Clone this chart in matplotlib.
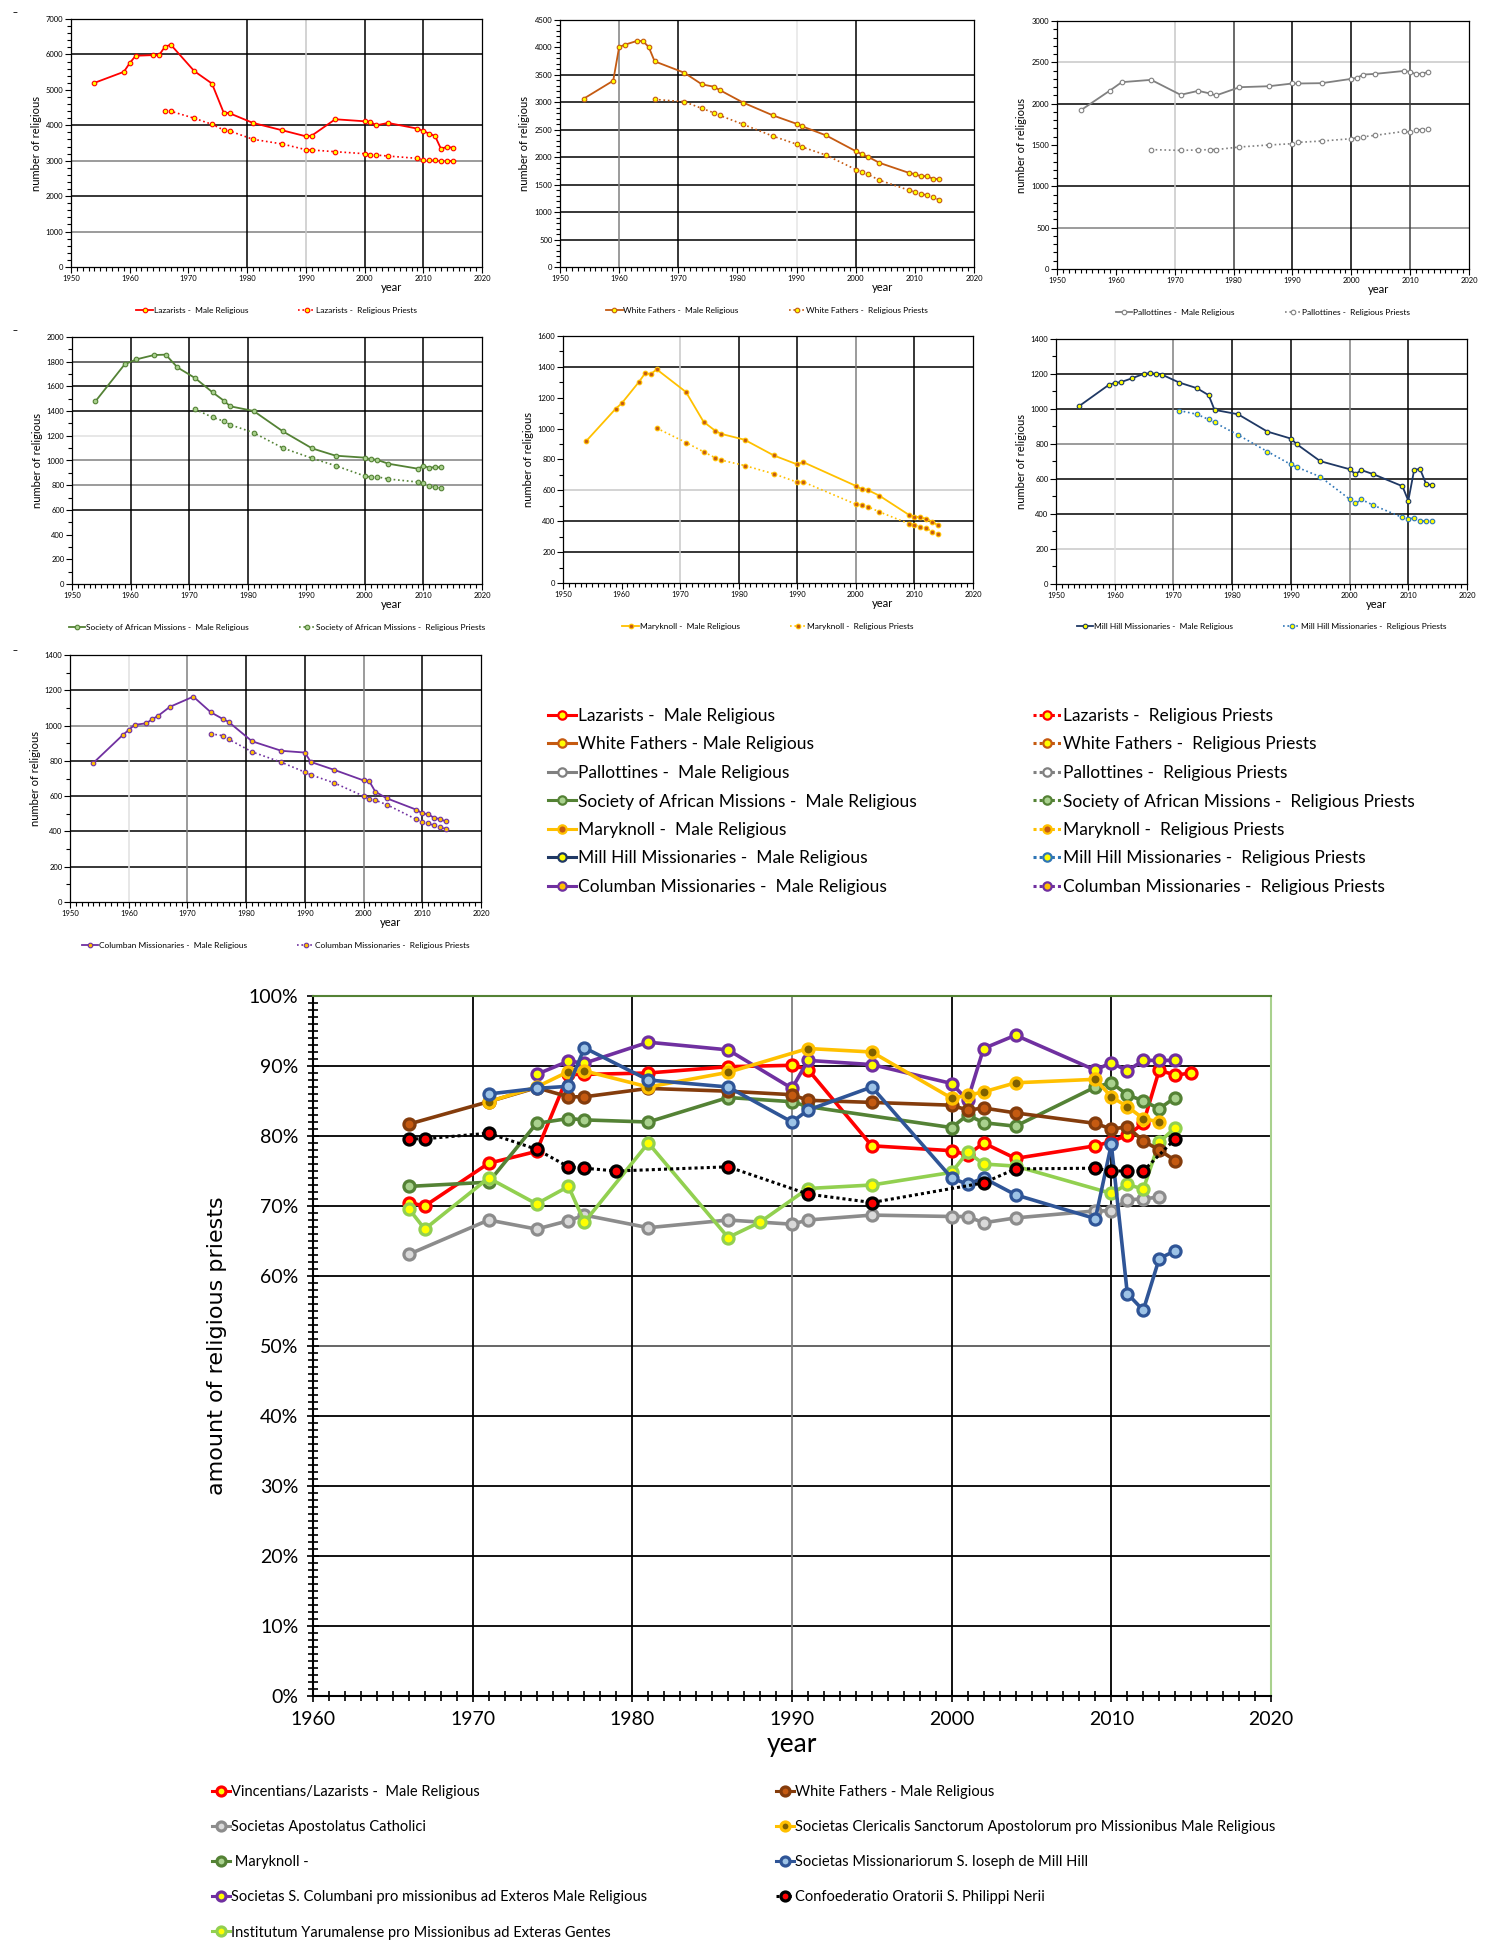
import matplotlib
matplotlib.use("Agg")
import matplotlib.pyplot as plt
from matplotlib.ticker import MultipleLocator, FuncFormatter
from matplotlib.lines import Line2D

# ---------------- small panels: number of religious ----------------
laz_male_years = [1954, 1959, 1960, 1961, 1964, 1965, 1966, 1967, 1971, 1974, 1976, 1977, 1981, 1986,
                  1990, 1991, 1995, 2000, 2001, 2002, 2004, 2009, 2010, 2011, 2012, 2013, 2014, 2015]
laz_male = [5198, 5509, 5755, 5962, 5981, 5981, 6217, 6274, 5528, 5179, 4358, 4340, 4066, 3858,
            3689, 3708, 4170, 4113, 4094, 4000, 4066, 3906, 3840, 3764, 3698, 3340, 3387, 3368]
laz_priest_years = [1966, 1967, 1971, 1974, 1976, 1977, 1981, 1986, 1990, 1991, 1995, 2000, 2001,
                    2002, 2004, 2009, 2010, 2011, 2012, 2013, 2014, 2015]
laz_priest = [4396, 4396, 4198, 4028, 3868, 3840, 3604, 3472, 3311, 3302, 3255, 3198, 3170,
              3160, 3132, 3066, 3019, 3009, 3009, 2991, 2991, 2991]

wf_male_years = [1954, 1959, 1960, 1961, 1963, 1964, 1965, 1966, 1971, 1974, 1976, 1977, 1981, 1986,
                 1990, 1991, 1995, 2000, 2001, 2002, 2004, 2009, 2010, 2011, 2012, 2013, 2014]
wf_male = [3066, 3394, 4008, 4051, 4118, 4118, 4008, 3747, 3540, 3327, 3285, 3224, 2993, 2762,
           2609, 2561, 2397, 2111, 2056, 2013, 1898, 1715, 1691, 1655, 1655, 1612, 1600]
wf_priest_years = [1966, 1971, 1974, 1976, 1977, 1981, 1986, 1990, 1991, 1995, 2000, 2001, 2002,
                   2004, 2009, 2010, 2011, 2012, 2013, 2014]
wf_priest = [3054, 3011, 2889, 2810, 2762, 2597, 2384, 2238, 2184, 2038, 1776, 1727, 1691,
             1582, 1399, 1363, 1338, 1308, 1271, 1229]

pal_male_years = [1954, 1959, 1961, 1966, 1971, 1974, 1976, 1977, 1981, 1986, 1990, 1991, 1995,
                  2000, 2001, 2002, 2004, 2009, 2010, 2011, 2012, 2013]
pal_male = [1918, 2159, 2260, 2288, 2107, 2155, 2123, 2099, 2199, 2211, 2244, 2244, 2248,
            2300, 2312, 2352, 2360, 2396, 2384, 2356, 2364, 2380]
pal_priest_years = [1966, 1971, 1974, 1976, 1977, 1981, 1986, 1990, 1991, 1995, 2000, 2001, 2002,
                    2004, 2009, 2010, 2011, 2012, 2013]
pal_priest = [1444, 1435, 1440, 1444, 1444, 1476, 1500, 1516, 1532, 1548, 1576, 1588, 1600,
              1616, 1665, 1653, 1681, 1685, 1697]

sma_male_years = [1954, 1959, 1961, 1964, 1966, 1968, 1971, 1974, 1976, 1977, 1981, 1986, 1991,
                  1995, 2000, 2001, 2002, 2004, 2009, 2010, 2011, 2012, 2013]
sma_male = [1479, 1779, 1819, 1854, 1857, 1754, 1668, 1552, 1482, 1439, 1401, 1236, 1098,
            1039, 1023, 1009, 1007, 974, 934, 955, 942, 945, 945]
sma_priest_years = [1971, 1974, 1976, 1977, 1981, 1986, 1991, 1995, 2000, 2001, 2002, 2004,
                    2009, 2010, 2011, 2012, 2013]
sma_priest = [1414, 1350, 1317, 1290, 1225, 1101, 1018, 958, 874, 866, 869, 850,
              826, 815, 794, 783, 775]

mk_male_years = [1954, 1959, 1960, 1963, 1964, 1965, 1966, 1971, 1974, 1976, 1977, 1981, 1986,
                 1990, 1991, 2000, 2001, 2002, 2004, 2009, 2010, 2011, 2012, 2013, 2014]
mk_male = [921, 1129, 1163, 1304, 1358, 1354, 1384, 1237, 1044, 986, 966, 928, 826,
           768, 783, 629, 608, 603, 566, 443, 430, 426, 415, 398, 374]
mk_priest_years = [1966, 1971, 1974, 1976, 1977, 1981, 1986, 1990, 1991, 2000, 2001, 2002, 2004,
                   2009, 2010, 2011, 2012, 2013, 2014]
mk_priest = [1003, 910, 850, 811, 796, 761, 707, 653, 655, 510, 506, 495, 461,
             385, 376, 365, 355, 333, 318]

mh_male_years = [1954, 1959, 1960, 1961, 1963, 1965, 1966, 1967, 1968, 1971, 1974, 1976, 1977,
                 1981, 1986, 1990, 1991, 1995, 2000, 2001, 2002, 2004, 2009, 2010, 2011, 2012,
                 2013, 2014]
mh_male = [1018, 1138, 1149, 1153, 1176, 1202, 1204, 1202, 1197, 1151, 1119, 1079, 995,
           970, 871, 831, 799, 702, 656, 628, 651, 628, 559, 476, 652, 658, 574, 563]
mh_priest_years = [1971, 1974, 1976, 1977, 1981, 1986, 1990, 1991, 1995, 2000, 2001, 2002, 2004,
                   2009, 2010, 2011, 2012, 2013, 2014]
mh_priest = [991, 970, 940, 923, 852, 757, 683, 668, 613, 485, 460, 483, 451,
             380, 373, 377, 361, 358, 358]

col_male_years = [1954, 1959, 1960, 1961, 1963, 1964, 1965, 1967, 1971, 1974, 1976, 1977, 1981,
                  1986, 1990, 1991, 1995, 2000, 2001, 2002, 2004, 2009, 2010, 2011, 2012, 2013, 2014]
col_male = [789, 947, 975, 1004, 1013, 1036, 1055, 1106, 1164, 1075, 1038, 1021, 911,
            857, 847, 794, 749, 689, 683, 625, 587, 523, 502, 498, 477, 470, 457]
col_priest_years = [1974, 1976, 1977, 1981, 1986, 1990, 1991, 1995, 2000, 2001, 2002, 2004,
                    2009, 2010, 2011, 2012, 2013, 2014]
col_priest = [953, 943, 923, 851, 792, 736, 721, 675, 600, 581, 577, 551,
              468, 455, 445, 434, 426, 415]

# ---------------- big chart: share of priests (%) ----------------
vin_years = [1966, 1967, 1971, 1974, 1976, 1977, 1981, 1986, 1990, 1991, 1995, 2000, 2001, 2002,
             2004, 2009, 2010, 2011, 2012, 2013, 2014, 2015]
vin_pct = [70.5, 70.0, 76.1, 77.8, 88.8, 88.8, 89.0, 89.9, 90.1, 89.5, 78.6, 77.9, 77.3, 79.0,
           76.8, 78.6, 79.2, 80.1, 81.8, 89.4, 88.7, 89.0]
wfp_years = [1966, 1971, 1974, 1976, 1977, 1981, 1986, 1990, 1991, 1995, 2000, 2001, 2002, 2004,
             2009, 2010, 2011, 2012, 2013, 2014]
wfp_pct = [81.7, 84.9, 86.9, 85.6, 85.6, 86.8, 86.4, 85.9, 85.1, 84.8, 84.4, 83.7, 84.0, 83.3,
           81.8, 81.0, 81.3, 79.3, 78.0, 76.5]
sac_years = [1966, 1971, 1974, 1976, 1977, 1981, 1986, 1990, 1991, 1995, 2000, 2001, 2002, 2004,
             2009, 2010, 2011, 2012, 2013]
sac_pct = [63.1, 68.0, 66.7, 67.9, 68.7, 66.9, 68.0, 67.4, 68.0, 68.7, 68.5, 68.5, 67.6, 68.3,
           69.3, 69.3, 70.9, 71.0, 71.3]
scsa_years = [1971, 1974, 1976, 1977, 1981, 1986, 1991, 1995, 2000, 2001, 2002, 2004, 2009, 2010,
              2011, 2012, 2013]
scsa_pct = [84.9, 87.0, 89.2, 89.3, 87.0, 89.1, 92.5, 92.0, 85.4, 85.8, 86.3, 87.6, 88.1, 85.6,
            84.2, 82.5, 82.0]
mkp_years = [1966, 1971, 1974, 1976, 1977, 1981, 1986, 1990, 1991, 2000, 2001, 2002, 2004, 2009,
             2010, 2011, 2012, 2013, 2014]
mkp_pct = [72.8, 73.4, 81.8, 82.5, 82.3, 82.0, 85.5, 84.9, 84.2, 81.2, 83.0, 81.9, 81.4, 87.0,
           87.6, 85.9, 85.0, 83.9, 85.5]
mhp_years = [1971, 1974, 1976, 1977, 1981, 1986, 1990, 1991, 1995, 2000, 2001, 2002, 2004, 2009,
             2010, 2011, 2012, 2013, 2014]
mhp_pct = [86.0, 86.8, 87.1, 92.6, 88.0, 87.0, 82.0, 83.7, 87.0, 74.0, 73.1, 74.0, 71.6, 68.2,
           78.8, 57.5, 55.1, 62.5, 63.6]
colp_years = [1974, 1976, 1977, 1981, 1986, 1990, 1991, 1995, 2000, 2001, 2002, 2004, 2009, 2010,
              2011, 2012, 2013, 2014]
colp_pct = [88.8, 90.7, 90.4, 93.4, 92.3, 86.8, 90.8, 90.2, 87.5, 85.1, 92.5, 94.4, 89.4, 90.5,
            89.3, 90.8, 90.8, 90.8]
ora_years = [1966, 1967, 1971, 1974, 1976, 1977, 1979, 1986, 1991, 1995, 2002, 2004, 2009, 2010,
             2011, 2012, 2014]
ora_pct = [79.6, 79.6, 80.4, 78.1, 75.6, 75.4, 75.0, 75.6, 71.7, 70.5, 73.3, 75.3, 75.4, 75.0,
           75.0, 75.0, 79.6]
yar_years = [1966, 1967, 1971, 1974, 1976, 1977, 1981, 1986, 1988, 1991, 1995, 2000, 2001, 2002,
             2004, 2010, 2011, 2012, 2013, 2014]
yar_pct = [69.6, 66.7, 74.0, 70.3, 72.8, 67.7, 79.0, 65.5, 67.7, 72.5, 73.0, 74.8, 77.7, 76.0,
           75.7, 71.8, 73.1, 72.4, 79.1, 81.2]

W, H = 1493, 1960
fig = plt.figure(figsize=(W / 100, H / 100), dpi=100)
CAL = ["Lato", "DejaVu Sans"]


def box(l, t, r, b):
    # pixel box (left, top, right, bottom) -> figure fraction rect
    return [l / W, 1 - b / H, (r - l) / W, (b - t) / H]


def small_panel(rect, name, data, ymax, ystep, yminor, sty, hgrid, vgrid):
    ax = fig.add_axes(box(*rect))
    (my, mv, py, pv) = data
    (lc, mfc, mec, plc, pmfc, pmec) = sty
    for y, c in hgrid:
        ax.axhline(y, color=c, lw=1.1, zorder=0)
    for x, c in vgrid:
        ax.axvline(x, color=c, lw=1.1, zorder=0)
    ax.plot(my, mv, "-", color=lc, lw=1.3, marker="o", ms=3.3, mfc=mfc, mec=mec, mew=0.8,
            label=name + " -  Male Religious")
    ax.plot(py, pv, ":", color=plc, lw=1.2, marker="o", ms=3.3, mfc=pmfc, mec=pmec, mew=0.8,
            label=name + " -  Religious Priests")
    ax.set_xlim(1950, 2020)
    ax.set_ylim(0, ymax)
    ax.xaxis.set_major_locator(MultipleLocator(10))
    ax.xaxis.set_minor_locator(MultipleLocator(1))
    ax.yaxis.set_major_locator(MultipleLocator(ystep))
    ax.yaxis.set_minor_locator(MultipleLocator(yminor))
    ax.tick_params(which="both", direction="out", labelsize=5.5, width=0.8, pad=1.5)
    ax.tick_params(which="major", length=4)
    ax.tick_params(which="minor", length=3)
    for lab in ax.get_xticklabels() + ax.get_yticklabels():
        lab.set_family(CAL)
    for s in ax.spines.values():
        s.set_color("black")
        s.set_linewidth(0.9)
    ax.set_ylabel("number of religious", fontsize=8, family=CAL, labelpad=3)
    ax.set_xlabel("year", fontsize=8, family=CAL, labelpad=-1)
    ax.xaxis.set_label_coords(0.78, -0.06)
    ax.legend(loc="upper center", bbox_to_anchor=(0.5, -0.13), ncol=2, frameon=False,
              columnspacing=6, handlelength=2, handletextpad=0.1,
              prop={"family": CAL, "size": 6})
    return ax


K, G, LG = "black", "#808080", "#C8C8C8"

panels = [
    ((71, 19, 482, 267), "Lazarists", (laz_male_years, laz_male, laz_priest_years, laz_priest),
     7000, 1000, 200, ("#FF0000", "yellow", "#FF0000", "#FF0000", "yellow", "#FF0000"),
     [(6000, K), (4000, K), (3000, G), (2000, K), (1000, G)],
     [(1980, K), (1990, LG), (2000, K), (2010, K)]),
    ((560, 20, 974, 267), "White Fathers", (wf_male_years, wf_male, wf_priest_years, wf_priest),
     4500, 500, 100, ("#C55A11", "yellow", "#C55A11", "#C55A11", "yellow", "#C55A11"),
     [(3500, K), (3000, K), (2500, K), (2000, K), (1500, K), (1000, K), (500, K)],
     [(1960, G), (1970, K), (1990, "#E6E6E6"), (2000, K)]),
    ((1057, 21, 1469, 269), "Pallottines", (pal_male_years, pal_male, pal_priest_years, pal_priest),
     3000, 500, 100, ("#808080", "white", "#808080", "#808080", "white", "#808080"),
     [(2500, LG), (2000, K), (1000, K), (500, G)],
     [(1970, LG), (1980, "#404040"), (1990, K), (2000, K), (2010, "#404040")]),
    ((72, 337, 482, 584), "Society of African Missions", (sma_male_years, sma_male, sma_priest_years, sma_priest),
     2000, 200, 100, ("#548235", "#A9D18E", "#548235", "#548235", "#A9D18E", "#548235"),
     [(1800, "#404040"), (1600, K), (1400, K), (1200, "#E0E0E0"), (1000, G), (800, G), (600, K)],
     [(1960, K), (1970, K), (1980, K), (2000, K), (2010, K)]),
    ((563, 336, 973, 583), "Maryknoll", (mk_male_years, mk_male, mk_priest_years, mk_priest),
     1600, 200, 100, ("#FFC000", "#C55A11", "#FFC000", "#FFC000", "#C55A11", "#FFC000"),
     [(1400, K), (600, LG), (400, K), (200, K)],
     [(1970, LG), (1980, K), (1990, K), (2000, G), (2010, K)]),
    ((1056, 339, 1467, 584), "Mill Hill Missionaries", (mh_male_years, mh_male, mh_priest_years, mh_priest),
     1400, 200, 100, ("#1F3864", "yellow", "#1F3864", "#2E75B6", "yellow", "#2E75B6"),
     [(1200, K), (1000, K), (800, G), (600, K), (400, K), (200, LG)],
     [(1960, "#E0E0E0"), (1970, G), (1980, K), (1990, K), (2000, G), (2010, K)]),
    ((70, 655, 481, 902), "Columban Missionaries", (col_male_years, col_male, col_priest_years, col_priest),
     1400, 200, 100, ("#7030A0", "#FFC000", "#7030A0", "#7030A0", "#FFC000", "#7030A0"),
     [(1200, K), (1000, G), (800, K), (600, K), (400, K), (200, K)],
     [(1960, "#E0E0E0"), (1970, G), (1980, K), (1990, K), (2000, G), (2010, K)]),
]

male_handles, priest_handles, male_labels, priest_labels = [], [], [], []
for p in panels:
    small_panel(*p)
    name = p[1]
    lc, mfc, mec, plc, pmfc, pmec = p[6]
    male_handles.append(Line2D([], [], color=lc, lw=2.2, marker="o", ms=6, mfc=mfc, mec=mec, mew=1.6))
    priest_handles.append(Line2D([], [], color=plc, lw=2.2, ls=(0, (1, 1)), marker="o", ms=6,
                                 mfc=pmfc, mec=pmec, mew=1.6))
    sep = " - " if name == "White Fathers" else " -  "
    male_labels.append(name + sep + "Male Religious")
    priest_labels.append(name + " -  Religious Priests")

# small stray marks from the original screenshots
for x, y in [(13, 12), (13, 330), (13, 650)]:
    fig.text(x / W, 1 - y / H, "–", fontsize=7, ha="left", va="center")

# shared legend for the small panels
leg_kw = dict(loc="upper left", frameon=False, handlelength=1.6, handletextpad=0.15, borderpad=0,
              borderaxespad=0, labelspacing=0.72, prop={"family": CAL, "size": 12.5})
l1 = fig.legend(male_handles, male_labels, bbox_to_anchor=(548 / W, 1 - 708 / H), **leg_kw)
l2 = fig.legend(priest_handles, priest_labels, bbox_to_anchor=(1033 / W, 1 - 708 / H), **leg_kw)

# ---------------- big chart ----------------
axb = fig.add_axes(box(313, 996, 1271, 1696))
for y in range(10, 100, 10):
    axb.axhline(y, color="#595959" if y == 50 else "black", lw=1.3, zorder=0)
for x in [1970, 1980, 1990, 2000, 2010]:
    axb.axvline(x, color="#7F7F7F" if x == 1990 else "black", lw=1.3, zorder=0)

big = [
    (vin_years, vin_pct, "Vincentians/Lazarists -  Male Religious", "#FF0000", "yellow", "-"),
    (sac_years, sac_pct, "Societas Apostolatus Catholici", "#8C8C8C", "#D9D9D9", "-"),
    (mkp_years, mkp_pct, " Maryknoll -", "#548235", "#A9D18E", "-"),
    (colp_years, colp_pct, "Societas S. Columbani pro missionibus ad Exteros Male Religious", "#7030A0", "yellow", "-"),
    (yar_years, yar_pct, "Institutum Yarumalense pro Missionibus ad Exteras Gentes", "#92D050", "yellow", "-"),
    (wfp_years, wfp_pct, "White Fathers - Male Religious", "#843C0C", "#C55A11", "-"),
    (scsa_years, scsa_pct, "Societas Clericalis Sanctorum Apostolorum pro Missionibus Male Religious", "#FFC000", "#7F6000", "-"),
    (mhp_years, mhp_pct, "Societas Missionariorum S. Ioseph de Mill Hill", "#2F5597", "#9DC3E6", "-"),
    (ora_years, ora_pct, "Confoederatio Oratorii S. Philippi Nerii", "black", "#FF0000", (0, (1, 1))),
]
handles = []
for yrs, vals, lab, col, mfc, ls in big:
    lw = 2.2 if col == "black" else 2.6
    h, = axb.plot(yrs, vals, linestyle=ls, color=col, lw=lw, marker="o", ms=8, mfc=mfc, mec=col,
                  mew=2.3, label=lab, zorder=3)
    handles.append(h)

axb.set_xlim(1960, 2020)
axb.set_ylim(0, 100)
axb.xaxis.set_major_locator(MultipleLocator(10))
axb.xaxis.set_minor_locator(MultipleLocator(1))
axb.yaxis.set_major_locator(MultipleLocator(10))
axb.yaxis.set_minor_locator(MultipleLocator(1))
axb.yaxis.set_major_formatter(FuncFormatter(lambda v, p: f"{v:.0f}%"))
axb.tick_params(which="both", direction="inout", width=1.2, labelsize=14)
axb.tick_params(which="major", length=9, pad=6)
axb.tick_params(which="minor", length=7)
for lab in axb.get_xticklabels() + axb.get_yticklabels():
    lab.set_family(CAL)
axb.spines["left"].set_color("black")
axb.spines["bottom"].set_color("black")
axb.spines["top"].set_color("#548235")
axb.spines["right"].set_color("#A9D18E")
for s in axb.spines.values():
    s.set_linewidth(1.5)
axb.set_ylabel("amount of religious priests", fontsize=16, family=["DejaVu Sans"], labelpad=16)
axb.set_xlabel("year", fontsize=19, family=CAL, labelpad=3)

bleg_kw = dict(loc="upper left", frameon=False, handlelength=1.2, handletextpad=0.1, borderpad=0,
               borderaxespad=0, labelspacing=1.45, prop={"family": CAL, "size": 10.5})
b1 = fig.legend(handles[:5], [b[2] for b in big[:5]], bbox_to_anchor=(212 / W, 1 - 1785 / H), **bleg_kw)
for h in b1.legend_handles:
    h.set_markersize(6.5)
    h.set_linewidth(2.2)
b2 = fig.legend(handles[5:], [b[2] for b in big[5:]], bbox_to_anchor=(776 / W, 1 - 1785 / H), **bleg_kw)
for h in b2.legend_handles:
    h.set_markersize(6.5)
    h.set_linewidth(2.2)

fig.savefig("out.png", dpi=100, facecolor="white")
